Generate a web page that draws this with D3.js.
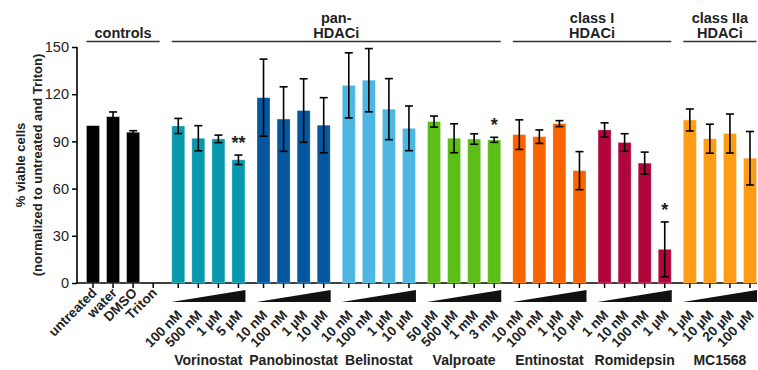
<!DOCTYPE html>
<html>
<head>
<meta charset="utf-8">
<script src="https://cdn.jsdelivr.net/npm/d3@7"></script>
<style>
  body { margin: 0; background: #fff; }
  svg { font-family: Arial, "Liberation Sans", sans-serif; }
  .bold { font-weight: bold; fill: #222; }
</style>
</head>
<body>
<svg id="chart" width="758" height="370"></svg>
<script>
// groups of bars, left to right
const groupNames = ['controls', 'Vorinostat', 'Panobinostat', 'Belinostat', 'Valproate', 'Entinostat', 'Romidepsin', 'MC1568'];
const groupColors = ['#000000', '#0899AE', '#05589F', '#4EB6E3', '#5CBE16', '#F86400', '#B1063B', '#FE9C13'];

const barLabels = [
    ['untreated', 'water', 'DMSO', 'Triton'],
    ['100 nM', '500 nM', '1 µM', '5 µM'],
    ['10 nM', '100 nM', '1 µM', '10 µM'],
    ['10 nM', '100 nM', '1 µM', '10 µM'],
    ['50 µM', '500 µM', '1 mM', '3 mM'],
    ['10 nM', '100 nM', '1 µM', '10 µM'],
    ['1 nM', '10 nM', '100 nM', '1 µM'],
    ['1 µM', '10 µM', '20 µM', '100 µM']
];

// % viable cells
const means = [
    [100, 105.7, 95.8, 0],
    [99.8, 92, 91.6, 78.3],
    [117.8, 104.2, 109.6, 100.3],
    [125.6, 128.9, 110.5, 98.3],
    [102.6, 92, 91.5, 91],
    [94.3, 93, 101.3, 71.4],
    [97.3, 89.3, 76.2, 21.4],
    [103.6, 91.7, 95, 79.3]
];

const errors = [
    [0.5, 3, 1, 0],
    [4.8, 8, 2.4, 3],
    [24.5, 20.5, 20.2, 17.5],
    [20.7, 20.1, 19.4, 14.2],
    [3.5, 9.2, 3.3, 1.6],
    [9.4, 4.3, 1.9, 12.1],
    [4.5, 5.6, 7, 17.4],
    [7, 9.2, 12.4, 17]
];

// significance marks: [group, bar, text]
const stars = [[1, 3, '**'], [4, 3, '*'], [6, 3, '*']];

// class headers: [first group, last group, lines]
const headers = [
    [0, 0, ['controls']],
    [1, 4, ['pan-', 'HDACi']],
    [5, 6, ['class I', 'HDACi']],
    [7, 7, ['class IIa', 'HDACi']]
];

const yTicks = [0, 30, 60, 90, 120, 150];

const svg = d3.select('#chart');
const x0 = 77, yBase = 283, yTop = 47;
const groupGap = 0.25;

// flatten bars with a slot position (gap between groups)
const bars = [];
groupNames.forEach((g, gi) => {
    barLabels[gi].forEach((lab, bi) => {
        bars.push({ group: gi, bar: bi, label: lab, mean: means[gi][bi], err: errors[gi][bi],
            slot: gi * 4 + bi + gi * groupGap });
    });
});

const x = d3.scaleLinear().domain([0, 31 + 7 * groupGap]).range([93, 750]);
const y = d3.scaleLinear().domain([0, 150]).range([yBase, yTop]);
const barW = 13;
const barX = (gi, bi) => x(gi * 4 + bi + gi * groupGap);

// y axis
const yAxis = svg.append('g')
    .attr('transform', `translate(${x0},0)`)
    .call(d3.axisLeft(y).tickValues(yTicks).tickSize(5).tickPadding(3));
yAxis.select('.domain').attr('stroke-width', 1.6).attr('d', `M0,${yTop}V${yBase}`);
yAxis.selectAll('.tick line').attr('stroke-width', 1.5);
yAxis.selectAll('.tick text').attr('font-size', 14.5).attr('fill', '#222')
    .attr('font-family', 'Arial, "Liberation Sans", sans-serif');

// x axis line + ticks
svg.append('line').attr('x1', x0).attr('x2', 757).attr('y1', yBase).attr('y2', yBase)
    .attr('stroke', '#000').attr('stroke-width', 1.6);
svg.selectAll('.xtick').data(bars).enter().append('line')
    .attr('x1', d => x(d.slot)).attr('x2', d => x(d.slot))
    .attr('y1', yBase).attr('y2', yBase + 5)
    .attr('stroke', '#000').attr('stroke-width', 1.5);

// y label
const yl = svg.append('text').attr('class', 'bold').attr('font-size', 13)
    .attr('text-anchor', 'middle').attr('transform', `translate(0,${(yTop + yBase) / 2}) rotate(-90)`);
yl.append('tspan').attr('x', 0).attr('y', 25).text('% viable cells');
yl.append('tspan').attr('x', 0).attr('y', 42).text('(normalized to untreated and Triton)');

// bars
svg.selectAll('.bar').data(bars.filter(d => d.mean > 0)).enter().append('rect')
    .attr('x', d => x(d.slot) - barW / 2)
    .attr('width', barW)
    .attr('y', d => y(d.mean))
    .attr('height', d => yBase - y(d.mean))
    .attr('fill', d => groupColors[d.group])
    .attr('stroke', '#fff').attr('stroke-opacity', 0.35).attr('stroke-width', 0.8);

// error bars
const eb = svg.selectAll('.err').data(bars.filter(d => d.err > 0.6)).enter().append('g')
    .attr('stroke', '#000').attr('stroke-width', 1.6);
eb.append('line').attr('x1', d => x(d.slot)).attr('x2', d => x(d.slot))
    .attr('y1', d => y(d.mean + d.err)).attr('y2', d => y(d.mean - d.err));
eb.append('line').attr('x1', d => x(d.slot) - 4).attr('x2', d => x(d.slot) + 4)
    .attr('y1', d => y(d.mean + d.err)).attr('y2', d => y(d.mean + d.err));
eb.append('line').attr('x1', d => x(d.slot) - 4).attr('x2', d => x(d.slot) + 4)
    .attr('y1', d => y(d.mean - d.err)).attr('y2', d => y(d.mean - d.err));

// significance stars
stars.forEach(([gi, bi, t]) => {
    svg.append('text').attr('class', 'bold').attr('font-size', 18).attr('text-anchor', 'middle')
        .attr('x', barX(gi, bi)).attr('y', y(means[gi][bi] + errors[gi][bi]) - 6)
        .text(t);
});

// headers
headers.forEach(([g1, g2, lines]) => {
    const xa = barX(g1, 0) - 6.5, xb = Math.min(barX(g2, 3) + 6.5, 757);
    svg.append('line').attr('x1', xa).attr('x2', xb).attr('y1', 41.5).attr('y2', 41.5)
        .attr('stroke', '#333').attr('stroke-width', 1.6);
    lines.forEach((l, i) => {
        svg.append('text').attr('class', 'bold').attr('font-size', 14.5).attr('text-anchor', 'middle')
            .attr('x', (xa + xb) / 2).attr('y', 38 - (lines.length - 1 - i) * 15.5)
            .text(l);
    });
});

// bar labels, rotated
bars.forEach(d => {
    const cx = x(d.slot);
    const ly = d.group === 0 ? 287 : 309;
    svg.append('text').attr('class', 'bold').attr('font-size', 13.5).attr('text-anchor', 'end')
        .attr('transform', `translate(${cx - 2},${ly}) rotate(-45)`)
        .attr('dy', '0.7em')
        .text(d.label);
});

// dose wedges + group names
groupNames.forEach((g, gi) => {
    if (gi === 0) return;
    const xa = barX(gi, 0) - 7, xb = barX(gi, 3) + 7;
    svg.append('path').attr('d', `M${xa},302L${xb},290L${xb},302Z`).attr('fill', '#111');
    svg.append('text').attr('class', 'bold').attr('font-size', 14).attr('text-anchor', 'middle')
        .attr('x', (xa + xb) / 2).attr('y', 365).text(g);
});
</script>
</body>
</html>
